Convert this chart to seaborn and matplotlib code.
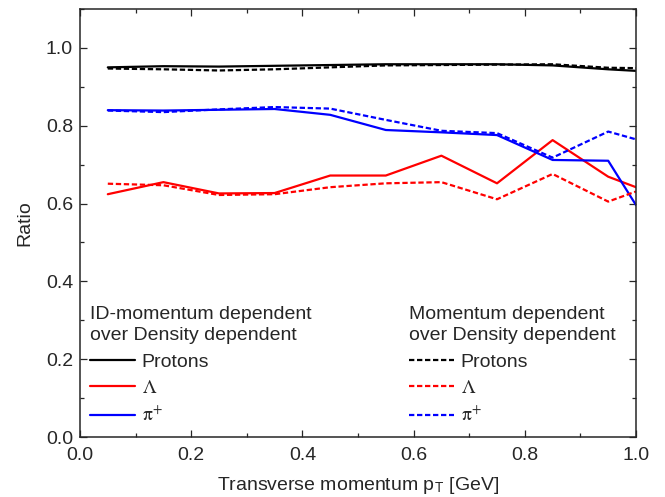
import numpy as np
import pandas as pd
import matplotlib
matplotlib.use("Agg")
import matplotlib.pyplot as plt
from matplotlib.ticker import MultipleLocator, FormatStrFormatter
import seaborn as sns

# -----------------------------
# Data
# -----------------------------
pt = [0.05, 0.15, 0.25, 0.35, 0.45, 0.55, 0.65, 0.75, 0.85, 0.95, 1.0]

# ID-momentum dependent over density dependent (solid)
protons_id = [0.950, 0.953, 0.952, 0.954, 0.956, 0.958, 0.958, 0.958, 0.955, 0.945, 0.941]
lambda_id = [0.624, 0.655, 0.626, 0.627, 0.672, 0.672, 0.723, 0.652, 0.763, 0.669, 0.642]
pion_id = [0.840, 0.839, 0.841, 0.843, 0.828, 0.789, 0.783, 0.776, 0.712, 0.710, 0.596]

# momentum dependent over density dependent (dashed)
protons_md = [0.947, 0.945, 0.942, 0.945, 0.950, 0.955, 0.956, 0.957, 0.958, 0.949, 0.948]
lambda_md = [0.651, 0.647, 0.622, 0.624, 0.642, 0.652, 0.655, 0.611, 0.676, 0.605, 0.631]
pion_md = [0.839, 0.835, 0.842, 0.848, 0.844, 0.815, 0.787, 0.781, 0.718, 0.785, 0.765]

labels = ["Protons", r"$\Lambda$", r"$\mathrm{\pi}^{+}$"]
colors = ["black", "#ff0000", "#0000ff"]

# -----------------------------
# Style
# -----------------------------
sns.set_style("ticks")
plt.rcParams["font.family"] = ["Liberation Sans", "DejaVu Sans"]
plt.rcParams["mathtext.fontset"] = "stix"
FS = 14

fig = plt.figure(figsize=(6.65, 4.97), dpi=100)
ax = fig.add_axes([0.1203, 0.1207, 0.8361, 0.8612])

dash = (0, (2.4, 1.2))
solid_handles = []
dashed_handles = []
for vals, c in zip([protons_id, lambda_id, pion_id], colors):
    sns.lineplot(x=pt, y=vals, ax=ax, color=c, lw=1.6)
    solid_handles.append(ax.lines[-1])
for vals, c in zip([protons_md, lambda_md, pion_md], colors):
    sns.lineplot(x=pt, y=vals, ax=ax, color=c, lw=1.6, linestyle=dash)
    dashed_handles.append(ax.lines[-1])

ax.set_xlim(0, 1.0)
ax.set_ylim(0, 1.1)
ax.xaxis.set_major_locator(MultipleLocator(0.2))
ax.xaxis.set_minor_locator(MultipleLocator(0.1))
ax.yaxis.set_major_locator(MultipleLocator(0.2))
ax.yaxis.set_minor_locator(MultipleLocator(0.1))
ax.xaxis.set_major_formatter(FormatStrFormatter("%.1f"))
ax.yaxis.set_major_formatter(FormatStrFormatter("%.1f"))
ax.tick_params(which="both", direction="in", top=True, right=True,
               width=0.9, labelsize=FS)
ax.tick_params(axis="x", pad=7)
ax.tick_params(axis="y", pad=5)
ax.tick_params(which="major", length=5)
ax.tick_params(which="minor", length=3)
for s in ax.spines.values():
    s.set_linewidth(1.1)

ax.set_xlabel(r"Transverse momentum p$_\mathregular{T}$ [GeV]", fontsize=FS, labelpad=8)
ax.set_ylabel("Ratio", fontsize=FS, labelpad=9)

legend_kw = dict(frameon=False, fontsize=FS, title_fontsize=FS, alignment="left",
                 handlelength=2.3, handletextpad=0.35, labelspacing=0.45,
                 borderpad=0, borderaxespad=0, loc="upper left")
leg1 = ax.legend(handles=solid_handles, labels=labels,
                 title="ID-momentum dependent\nover Density dependent",
                 bbox_to_anchor=(0.018, 0.305), **legend_kw)
leg1.get_title().set_linespacing(1.3)
ax.add_artist(leg1)
leg2 = ax.legend(handles=dashed_handles, labels=labels,
                 title="Momentum dependent\nover Density dependent",
                 bbox_to_anchor=(0.592, 0.305), **legend_kw)
leg2.get_title().set_linespacing(1.3)

fig.savefig("out.png", dpi=100)
